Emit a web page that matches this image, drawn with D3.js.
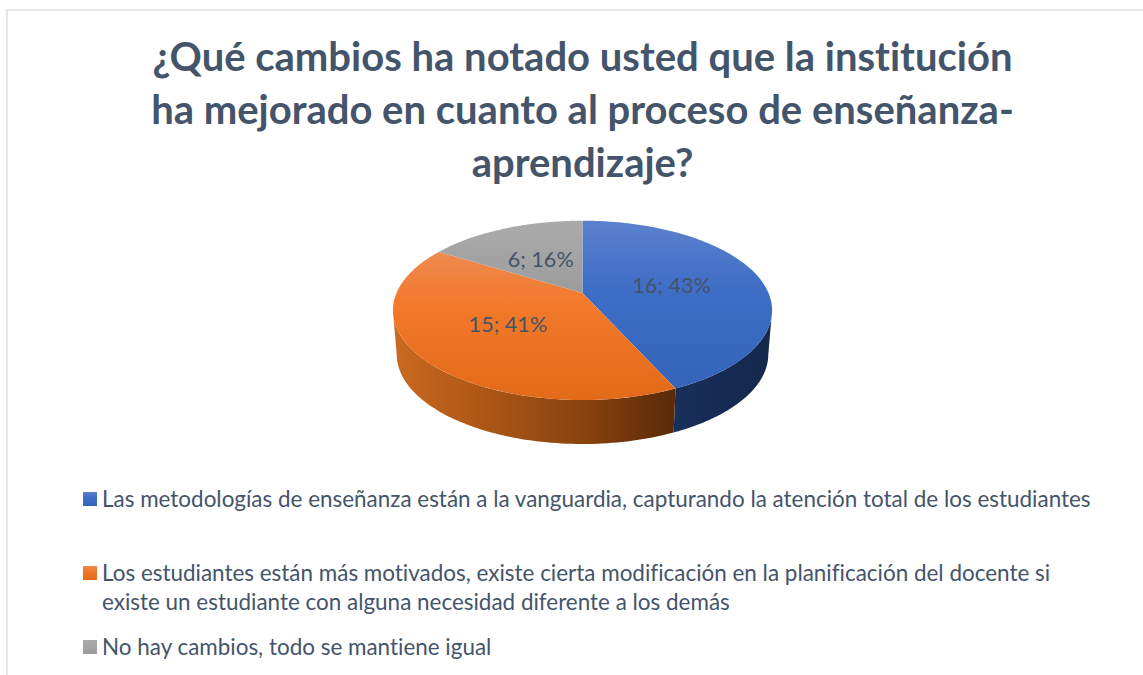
<!DOCTYPE html>
<html lang="es">

<head>
  <meta charset="UTF-8">
  <title>Cambios</title>
  <style>
    html, body { margin: 0; padding: 0; background: #fff; overflow: hidden; }
    text { font-family: Lato, "Open Sans", sans-serif; fill: #44546a; font-variant-ligatures: none; }
  </style>
</head>

<body>
  <div id="svg"></div>

  <script src="https://d3js.org/d3.v7.min.js"></script>

  <script>
    const titleLines = ['¿Qué cambios ha notado usted que la institución', 'ha mejorado en cuanto al proceso de enseñanza-', 'aprendizaje?']
    const categories = ['Metodologías', 'Motivados', 'Sin cambios']
    const values = [16, 15, 6]
    const legendLines = [
      ['Las metodologías de enseñanza están a la vanguardia, capturando la atención total de los estudiantes'],
      ['Los estudiantes están más motivados, existe cierta modificación en la planificación del docente si', 'existe un estudiante con alguna necesidad diferente a los demás'],
      ['No hay cambios, todo se mantiene igual']
    ]

    const width = 1143
    const height = 675
    const svg = d3.select('#svg').append('svg').attr('width', width).attr('height', height).style('display', 'block')

    // frame, only top and left show in the picture
    svg.append('rect').attr('x', 6).attr('y', 9).attr('width', width).attr('height', 2).attr('fill', '#e4e8ed')
    svg.append('rect').attr('x', 6).attr('y', 9).attr('width', 2).attr('height', height).attr('fill', '#e4e8ed')

    const defs = svg.append('defs')
    const vGrad = (id, stops) => {
      const g = defs.append('linearGradient').attr('id', id).attr('x1', 0).attr('y1', 0).attr('x2', 0).attr('y2', 1)
      stops.forEach(s => g.append('stop').attr('offset', s[0]).attr('stop-color', s[1]))
    }
    const hGrad = (id, stops) => {
      const g = defs.append('linearGradient').attr('id', id).attr('x1', 0).attr('y1', 0).attr('x2', 1).attr('y2', 0)
      stops.forEach(s => g.append('stop').attr('offset', s[0]).attr('stop-color', s[1]))
    }
    vGrad('top0', [[0, '#5b81cd'], [0.4, '#3f6ec6'], [1, '#3463ba']])
    vGrad('top1', [[0, '#ee8a50'], [0.35, '#f3792b'], [1, '#e26a18']])
    vGrad('top2', [[0, '#ababab'], [1, '#9c9c9c']])
    hGrad('wall0', [[0, '#182f5a'], [1, '#14284c']])
    hGrad('wall1', [[0, '#cb6a20'], [0.3, '#ae5816'], [0.65, '#8c440e'], [1, '#5a2a08']])

    const pie = d3.pie().sort(null)
    const arcs = pie(values)

    // the 3D pie has perspective: the centre is not in the middle of the ellipse
    const cx = 582.5
    const persp = 0.1935
    const xScale = d3.scaleLinear().domain([0, 1]).range([cx, cx + 186])
    const yScale = d3.scaleLinear().domain([0, 1]).range([293, 263.4])
    const project = (a, r) => {
      const u = r * Math.sin(a)
      const v = r * Math.cos(a)
      const w = 1 + persp * v
      return [cx + (xScale(u) - cx) / w, yScale(v) / w]
    }
    const projectBase = (a) => {
      const p = project(a, 1)
      return [cx + (p[0] - cx) * 0.98, p[1] + 44]
    }
    const line = d3.line()
    const sample = (a0, a1, n) => d3.range(n + 1).map(i => a0 + (a1 - a0) * i / n)

    // side walls, from the widest point of the ellipse on each side
    const wallRight = (90 + 11.2) * Math.PI / 180
    const wallLeft = (270 - 11.2) * Math.PI / 180
    const walls = [
      { id: 0, a0: wallRight, a1: arcs[0].endAngle },
      { id: 1, a0: arcs[1].startAngle, a1: wallLeft }
    ]
    const wallPath = d => {
      const t = sample(d.a0, d.a1, 80)
      return line(t.map(a => project(a, 1)).concat(t.slice().reverse().map(projectBase))) + 'Z'
    }
    svg.append('g').selectAll('path').data(walls).enter().append('path')
      .attr('d', wallPath)
      .attr('fill', d => `url(#wall${d.id})`)

    // top slices
    const slicePath = d => line([project(0, 0)].concat(sample(d.startAngle, d.endAngle, 120).map(a => project(a, 1)))) + 'Z'
    svg.append('g').selectAll('path').data(arcs).enter().append('path')
      .attr('d', slicePath)
      .attr('fill', (d, i) => `url(#top${i})`)

    // data labels
    const total = d3.sum(values)
    svg.append('g').selectAll('text').data(arcs).enter().append('text')
      .attr('x', d => project((d.startAngle + d.endAngle) / 2, 0.5)[0])
      .attr('y', d => project((d.startAngle + d.endAngle) / 2, 0.5)[1])
      .attr('dy', '0.4em')
      .attr('text-anchor', 'middle')
      .attr('font-size', '21.6px')
      .text(d => `${d.value}; ${Math.round(d.value / total * 100)}%`)

    // title
    const titleY = [71, 124, 177]
    svg.append('g').selectAll('text').data(titleLines).enter().append('text')
      .attr('x', cx)
      .attr('y', (d, i) => titleY[i])
      .attr('text-anchor', 'middle')
      .attr('font-size', '40px')
      .attr('font-weight', 700)
      .text(d => d)

    // legend
    const legendY = [506, 580, 654]
    const legendStep = 28.5
    const legend = svg.append('g').selectAll('g').data(categories).enter().append('g')
    legend.append('rect')
      .attr('x', 83)
      .attr('y', (d, i) => legendY[i] - 14)
      .attr('width', 14)
      .attr('height', 14)
      .attr('fill', (d, i) => `url(#top${i})`)
    legend.each(function (d, i) {
      d3.select(this).selectAll('text').data(legendLines[i]).enter().append('text')
        .attr('x', 102)
        .attr('y', (t, j) => legendY[i] + 1 + j * legendStep)
        .attr('font-size', '22.45px')
        .text(t => t)
    })
  </script>
</body>

</html>
